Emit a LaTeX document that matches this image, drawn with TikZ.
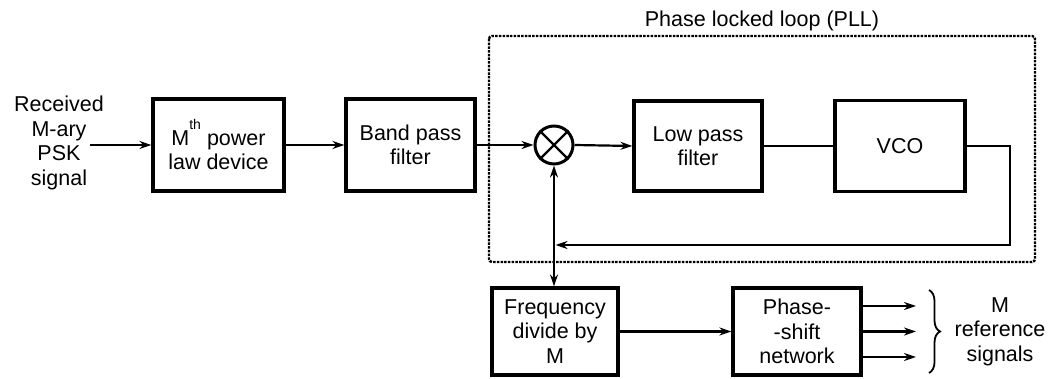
\documentclass[tikz,border=0pt]{standalone}
\usepackage{fontspec}
\setmainfont{Liberation Sans}
\usetikzlibrary{arrows.meta,decorations.pathreplacing}
\tikzset{
  blk/.style={draw, line width=3.2pt, align=center, inner sep=0pt,
    font=\fontsize{21.5}{24.5}\selectfont},
  txt/.style={align=center, inner sep=0pt, font=\fontsize{21.5}{24.5}\selectfont},
  conn/.style={line width=2.2pt, -{Stealth[length=12pt,width=8pt]}},
  plain/.style={line width=2.2pt},
  pll/.style={line width=2.4pt, dash pattern=on 2.5pt off 1.2pt, rounded corners=3pt},
}
\begin{document}
\begin{tikzpicture}[x=1pt,y=1pt]
\useasboundingbox (0,0) rectangle (1052,379);
% PLL dashed frame
\draw[pll] (489,343) rectangle (1035,117);
\node[txt] (title) at (762,358) {Phase locked loop (PLL)};
% input
\node[txt] (inp) at (59,236) {Received\\M-ary\\PSK\\signal};
\coordinate (src) at (90,234);
% blocks
\node[blk, minimum width=131pt, minimum height=92pt] (mth) at (218.5,234)
  {M\raisebox{0.72em}{\fontsize{14}{14}\selectfont th} power\\law device};
\node[blk, minimum width=129pt, minimum height=92pt] (bpf) at (410.5,234) {Band pass\\filter};
\node[draw, circle, line width=3pt, minimum size=38pt, inner sep=0pt] (mult) at (554,234) {};
\draw[line width=2.4pt] (mult.north west) -- (mult.south east) (mult.north east) -- (mult.south west);
\node[blk, minimum width=128pt, minimum height=90pt] (lpf) at (698,233) {Low pass\\filter};
\node[blk, minimum width=130pt, minimum height=91pt] (vco) at (900,233) {VCO};
\node[blk, minimum width=126pt, minimum height=87pt] (freq) at (555,47.5) {Frequency\\divide by\\M};
\node[blk, minimum width=128pt, minimum height=87pt] (phase) at (797,47.5) {Phase-\\-shift\\network};
% connectors
\draw[conn] (src) -- (mth.west |- src);
\draw[conn] (mth.east) -- (bpf.west);
\draw[conn] (bpf.east) -- (mult.west);
\draw[conn] (mult.east) -- (lpf.west);
\draw[plain] (lpf.east) -- (vco.west);
\coordinate (fbr) at (1010,233);
\coordinate (fbb) at (1010,134);
\coordinate (fbl) at (555.5,134);
\draw[conn] (vco.east) -- (fbr) -- (fbb) -- (fbl);
\draw[line width=2.2pt, {Stealth[length=12pt,width=8pt]}-{Stealth[length=12pt,width=8pt]}] (mult.south) -- (mult.south |- freq.north);
\draw[conn] (freq.east) -- (phase.west);
\coordinate (o1) at (916,73);
\coordinate (o2) at (916,47.5);
\coordinate (o3) at (916,22);
\draw[conn] (phase.east |- o1) -- (o1);
\draw[conn] (phase.east |- o2) -- (o2);
\draw[conn] (phase.east |- o3) -- (o3);
\coordinate (bt) at (929,89);
\coordinate (bb) at (929,6);
\draw[line width=1.8pt, decorate, decoration={brace, amplitude=11pt}] (bt) -- (bb);
\node[txt] (refs) at (1000,47.5) {M\\reference\\signals};
\end{tikzpicture}
\end{document}
